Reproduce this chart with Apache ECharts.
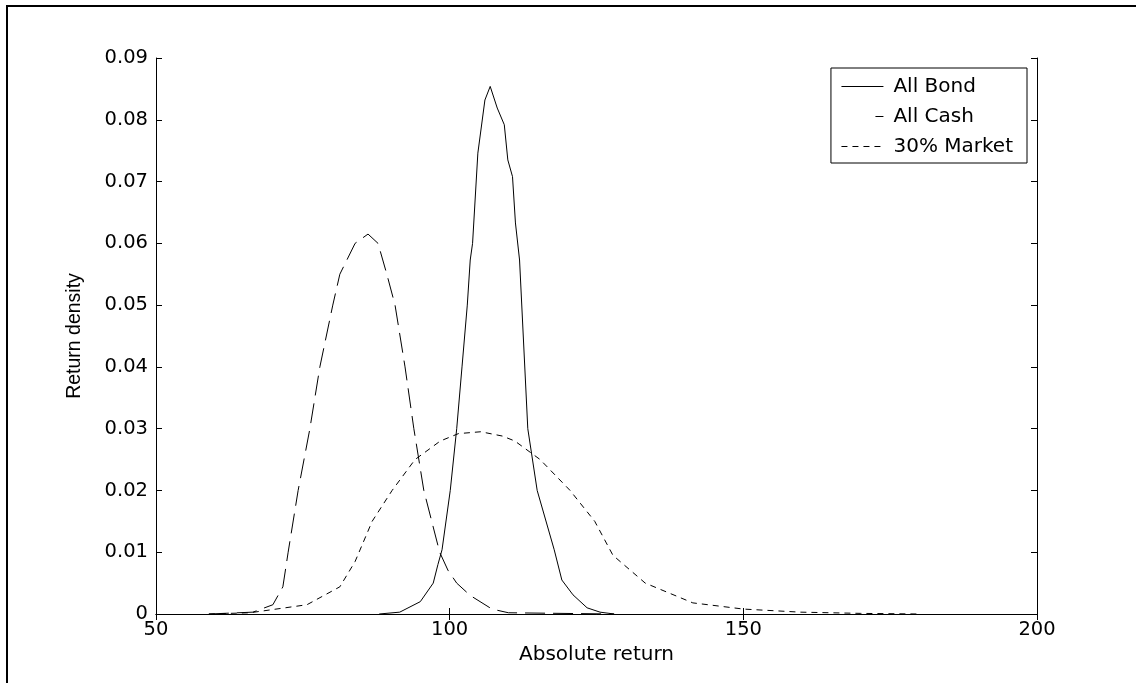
<!DOCTYPE html>
<html>
<head>
<meta charset="utf-8">
<script src="https://cdn.jsdelivr.net/npm/echarts@6/dist/echarts.min.js"></script>
<style>html,body{margin:0;padding:0;background:#fff}#c{width:1137px;height:683px}</style>
</head>
<body>
<div id="c"></div>
<script>
const seriesNames = ['All Bond', 'All Cash', '30% Market'];
const xTicks = [50, 100, 150, 200];
const yTicks = [0, 0.01, 0.02, 0.03, 0.04, 0.05, 0.06, 0.07, 0.08, 0.09];

const bondX = [88, 91.5, 95, 97.2, 98, 98.7, 100.1, 101.2, 102.1, 103, 103.5, 103.9, 104.8, 106, 106.9, 108.1, 109.3, 109.9, 110.7, 111.2, 111.9, 113.3, 114.9, 117.8, 119.1, 121, 123.4, 125.6, 128];
const bondY = [0, 0.0003, 0.002, 0.005, 0.008, 0.0104, 0.02, 0.03, 0.04, 0.05, 0.0573, 0.06, 0.0746, 0.0832, 0.0854, 0.0819, 0.0792, 0.0735, 0.0708, 0.0633, 0.0573, 0.03, 0.02, 0.0104, 0.0055, 0.0031, 0.001, 0.0003, 0];

const cashX = [59, 66.5, 69.9, 71.6, 72.5, 74.2, 76.2, 77.9, 80.1, 81.3, 83.9, 86.1, 87.8, 89.3, 90.7, 92.4, 93.9, 95.6, 98.3, 99.7, 101.2, 103.5, 107.2, 110, 128];
const cashY = [0, 0.0003, 0.0015, 0.0044, 0.01, 0.02, 0.03, 0.04, 0.05, 0.055, 0.06, 0.0615, 0.06, 0.055, 0.05, 0.04, 0.03, 0.02, 0.01, 0.0071, 0.005, 0.003, 0.0008, 0.0002, 0];

const marketX = [59, 66, 75.7, 81.3, 83.9, 86.8, 90.2, 94.1, 98.4, 101.5, 105.3, 109, 111.1, 115.4, 120.5, 124.7, 127.8, 133.3, 141.4, 150, 159.7, 170, 180];
const marketY = [0, 0.0002, 0.0015, 0.0044, 0.0085, 0.015, 0.02, 0.025, 0.028, 0.0292, 0.0295, 0.0288, 0.028, 0.025, 0.02, 0.015, 0.0095, 0.005, 0.0018, 0.0008, 0.0003, 0.0001, 0];

function zip(xs, ys) { return xs.map((x, i) => [x, ys[i]]); }

const font = 'DejaVu Sans, sans-serif';
const fontNarrow = 'Liberation Sans, Arial, sans-serif';
const chart = echarts.init(document.getElementById('c'), null, {renderer: 'canvas'});

const baseX = {
  type: 'value', min: 50, max: 200, interval: 50,
  axisLine: {show: true, lineStyle: {color: '#000', width: 1}},
  axisTick: {show: true, inside: true, length: 6, lineStyle: {color: '#000'}},
  splitLine: {show: false}
};
const baseY = {
  type: 'value', min: 0, max: 0.09, interval: 0.01,
  axisLine: {show: true, lineStyle: {color: '#000', width: 1}},
  axisTick: {show: true, inside: true, length: 6, lineStyle: {color: '#000'}},
  splitLine: {show: false}
};

const cashDash = [20, 8];
const marketDash = [6, 5];

chart.setOption({
  animation: false,
  backgroundColor: '#fff',
  grid: {left: 156, right: 100, top: 58, bottom: 69},
  xAxis: [
    Object.assign({}, baseX, {
      position: 'bottom',
      name: 'Absolute return', nameLocation: 'middle', nameGap: 31,
      nameTextStyle: {fontFamily: font, fontSize: 20, color: '#000'},
      axisLabel: {fontFamily: font, fontSize: 19.5, color: '#000', margin: 6,
        formatter: v => xTicks.includes(v) ? String(v) : ''}
    }),
    Object.assign({}, baseX, {position: 'top', axisLabel: {show: false}})
  ],
  yAxis: [
    Object.assign({}, baseY, {
      position: 'left',
      name: 'Return density', nameLocation: 'middle', nameGap: 71,
      nameTextStyle: {fontFamily: fontNarrow, fontSize: 19.5, color: '#000'},
      axisLabel: {fontFamily: font, fontSize: 19.5, color: '#000', margin: 8,
        formatter: v => { const t = yTicks.find(q => Math.abs(q - v) < 1e-9); return t === undefined ? '' : String(t); }}
    }),
    Object.assign({}, baseY, {position: 'right', axisLabel: {show: false}})
  ],
  legend: {
    orient: 'vertical', top: 68, right: 110,
    backgroundColor: '#fff', borderColor: '#000', borderWidth: 1,
    padding: [7, 14, 5, 10], itemGap: 7, itemWidth: 42, itemHeight: 14,
    itemStyle: {opacity: 0},
    textStyle: {fontFamily: font, fontSize: 20, color: '#000', lineHeight: 23, padding: [0, 0, 0, 5]},
    data: [
      {name: seriesNames[0], lineStyle: {color: '#000', width: 1, type: 'solid'}},
      {name: seriesNames[1], lineStyle: {color: '#000', width: 1, type: [0, 34, 8, 0]}},
      {name: seriesNames[2], lineStyle: {color: '#000', width: 1, type: marketDash}}
    ]
  },
  graphic: [{
    type: 'polyline', silent: true,
    shape: {points: [[7, 683], [7, 6], [1136, 6]]},
    style: {stroke: '#000', lineWidth: 2, fill: null}
  }],
  series: [
    {name: seriesNames[0], type: 'line', symbol: 'none', data: zip(bondX, bondY),
      lineStyle: {color: '#000', width: 1, type: 'solid'}, itemStyle: {color: '#000'}},
    {name: seriesNames[1], type: 'line', symbol: 'none', data: zip(cashX, cashY),
      lineStyle: {color: '#000', width: 1, type: cashDash}, itemStyle: {color: '#000'}},
    {name: seriesNames[2], type: 'line', symbol: 'none', data: zip(marketX, marketY),
      lineStyle: {color: '#000', width: 1, type: marketDash}, itemStyle: {color: '#000'}}
  ]
});
</script>
</body>
</html>
